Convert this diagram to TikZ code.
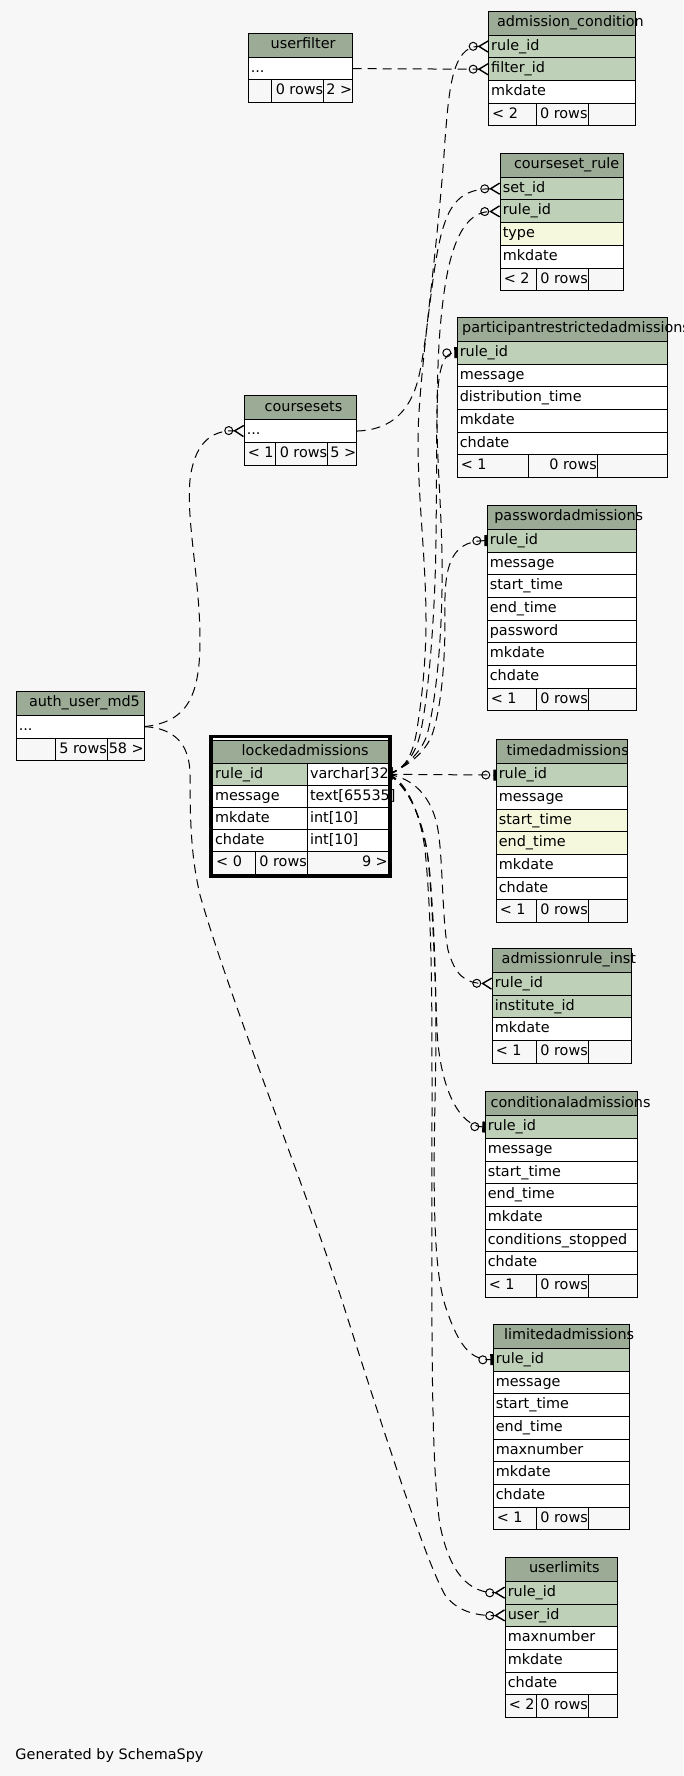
\documentclass[tikz,border=0pt]{standalone}
\usepackage{fontspec}
\setmainfont{DejaVu Sans}
\usetikzlibrary{arrows.meta}
\definecolor{bgc}{HTML}{F7F7F7}
\definecolor{hdr}{HTML}{9BAB96}
\definecolor{pk}{HTML}{BED1B8}
\definecolor{idx}{HTML}{F5F8DC}
\definecolor{wht}{HTML}{FFFFFF}
\newcommand{\tdots}{...}
\tikzset{
  cell/.style={draw=black, line width=1pt, inner sep=0pt, outer sep=0pt, minimum height=22.7pt},
  hdrcell/.style={cell, fill=hdr, minimum height=24pt},
  txt/.style={inner sep=0pt, outer sep=0pt, font=\fontsize{14.4pt}{17pt}\selectfont},
  rel/.style={draw=black, line width=1pt, dash pattern=on 9pt off 6pt},
  many/.style={rel, -{Circle[open,length=9pt,width=9pt]Straight Barb[reversed,length=9pt,width=11pt,line width=1.4pt]}},
  one/.style={rel, -{Circle[open,length=9pt,width=9pt,sep=3pt]Rectangle[length=3pt,width=11pt]}},
}
% id, x, y, w, textx, title
\newcommand{\tblhead}[6]{%
  \node[hdrcell, minimum width=#4pt, anchor=north west] (#1-h) at (#2,#3) {};
  \node[txt, anchor=base west] (#1-ht) at (#5,{#3+15.5}) {#6};}
% id, x, y(top of table), w, list fill/text
\newcommand{\tblrows}[5]{%
  \foreach[count=\ri] \cf/\ct in {#5} {%
    \node[cell, fill=\cf, minimum width=#4pt, anchor=north west] (#1-\ri) at (#2,{#3+24+(\ri-1)*22.7}) {};
    \node[txt, anchor=base west] (#1-\ri-t) at ({#2+2.5},{#3+24+(\ri-1)*22.7+15}) {\ct};
  }}
% id, x, y, w, d1, d2, t1, t2, t3
\newcommand{\tblfoot}[9]{%
  \node[cell, fill=bgc, minimum width=#4pt, anchor=north west] (#1-f) at (#2,#3) {};
  \draw[line width=1pt] (#5,#3) -- (#5,{#3+22.7}) (#6,#3) -- (#6,{#3+22.7});
  \node[txt, anchor=base west] (#1-f1) at ({#2+3.5},{#3+15}) {#7};
  \node[txt, anchor=base east] (#1-f2) at ({#6-0.5},{#3+15}) {#8};
  \node[txt, anchor=base east] (#1-f3) at ({#2+#4-0.5},{#3+15}) {#9};}
\begin{document}
\begin{tikzpicture}[x=1pt,y=-1pt]
\path[use as bounding box, fill=bgc] (0,0) rectangle (683,1776);

% userfilter
\tblhead{uf}{248.3}{33.3}{104.4}{270.7}{userfilter}
\tblrows{uf}{248.3}{33.3}{104.4}{wht/\tdots}
\tblfoot{uf}{248.3}{80}{104.4}{271.3}{323.7}{}{0 rows}{2 >}

% admission_condition
\tblhead{ac}{488.7}{11.2}{147}{497}{admission\_condition}
\tblrows{ac}{488.7}{11.2}{147}{pk/rule\_id, pk/filter\_id, wht/mkdate}
\tblfoot{ac}{488.7}{103.3}{147}{536}{588}{< 2}{0 rows}{}

% courseset_rule
\tblhead{cr}{500.3}{153.3}{123.4}{514}{courseset\_rule}
\tblrows{cr}{500.3}{153.3}{123.4}{pk/set\_id, pk/rule\_id, idx/type, wht/mkdate}
\tblfoot{cr}{500.3}{268.1}{123.4}{536}{588.3}{< 2}{0 rows}{}

% participantrestrictedadmissions
\tblhead{pra}{457.3}{317.3}{210.4}{462.2}{participantrestrictedadmissions}
\tblrows{pra}{457.3}{317.3}{210.4}{pk/rule\_id, wht/message, wht/distribution\_time, wht/mkdate, wht/chdate}
\tblfoot{pra}{457.3}{454.8}{210.4}{528.3}{597.3}{< 1}{0 rows}{}

% coursesets
\tblhead{cs}{244.3}{395.7}{112.4}{264.7}{coursesets}
\tblrows{cs}{244.3}{395.7}{112.4}{wht/\tdots}
\tblfoot{cs}{244.3}{442.4}{112.4}{275.3}{327.7}{< 1}{0 rows}{5 >}

% auth_user_md5
\tblhead{au}{16.3}{691.3}{128}{29}{auth\_user\_md5}
\tblrows{au}{16.3}{691.3}{128}{wht/\tdots}
\tblfoot{au}{16.3}{738}{128}{55.3}{107.3}{}{5 rows}{58 >}

% lockedadmissions
\fill[white] (211,736.7) rectangle (390,876.7);
\node[hdrcell, minimum width=175.6pt, minimum height=23.3pt, anchor=north west] (la-h) at (212.7,740) {};
\node[txt, anchor=base west] (la-ht) at (241.7,755.3) {lockedadmissions};
\foreach[count=\ri] \ca/\cb/\cf in {rule\_id/varchar[32]/pk, message/text[65535]/wht, mkdate/int[10]/wht, chdate/int[10]/wht} {
  \node[cell, fill=\cf, minimum width=94.6pt, minimum height=22pt, anchor=north west] (la-\ri-a) at (212.7,{763.3+(\ri-1)*22}) {};
  \node[cell, fill=wht, minimum width=81pt, minimum height=22pt, anchor=north west] (la-\ri-b) at (307.3,{763.3+(\ri-1)*22}) {};
  \node[txt, anchor=base west] (la-\ri-at) at (215,{763.3+(\ri-1)*22+15}) {\ca};
  \node[txt, anchor=base west] (la-\ri-bt) at (310,{763.3+(\ri-1)*22+15}) {\cb};
}
\tblfoot{la}{212.7}{851.3}{175.6}{255}{307.3}{< 0}{0 rows}{9 >}
\node[draw=black, line width=3.4pt, inner sep=0pt, outer sep=0pt, minimum width=179pt, minimum height=140pt, anchor=north west] (la) at (211,736.7) {};

% passwordadmissions
\tblhead{pw}{487.3}{505.3}{149}{494.3}{passwordadmissions}
\tblrows{pw}{487.3}{505.3}{149}{pk/rule\_id, wht/message, wht/start\_time, wht/end\_time, wht/password, wht/mkdate, wht/chdate}
\tblfoot{pw}{487.3}{688.2}{149}{536.3}{588.3}{< 1}{0 rows}{}

% timedadmissions
\tblhead{ta}{496.3}{739.7}{131}{506.7}{timedadmissions}
\tblrows{ta}{496.3}{739.7}{131}{pk/rule\_id, wht/message, idx/start\_time, idx/end\_time, wht/mkdate, wht/chdate}
\tblfoot{ta}{496.3}{899.9}{131}{536.3}{588.3}{< 1}{0 rows}{}

% admissionrule_inst
\tblhead{ari}{492.3}{948.3}{139.4}{501.7}{admissionrule\_inst}
\tblrows{ari}{492.3}{948.3}{139.4}{pk/rule\_id, pk/institute\_id, wht/mkdate}
\tblfoot{ari}{492.3}{1040.4}{139.4}{536.3}{588.3}{< 1}{0 rows}{}

% conditionaladmissions
\tblhead{ca}{485.3}{1091.7}{152}{490.7}{conditionaladmissions}
\tblrows{ca}{485.3}{1091.7}{152}{pk/rule\_id, wht/message, wht/start\_time, wht/end\_time, wht/mkdate, wht/conditions\_stopped, wht/chdate}
\tblfoot{ca}{485.3}{1274.6}{152}{536.3}{588.3}{< 1}{0 rows}{}

% limitedadmissions
\tblhead{lim}{493.3}{1324.3}{136}{504}{limitedadmissions}
\tblrows{lim}{493.3}{1324.3}{136}{pk/rule\_id, wht/message, wht/start\_time, wht/end\_time, wht/maxnumber, wht/mkdate, wht/chdate}
\tblfoot{lim}{493.3}{1507.2}{136}{536.3}{588.3}{< 1}{0 rows}{}

% userlimits
\tblhead{ul}{505.3}{1557.3}{112}{529}{userlimits}
\tblrows{ul}{505.3}{1557.3}{112}{pk/rule\_id, pk/user\_id, wht/maxnumber, wht/mkdate, wht/chdate}
\tblfoot{ul}{505.3}{1694.8}{112}{536.3}{588.3}{< 2}{0 rows}{}

\node[txt, anchor=base west] (gen) at (15.5,1759) {Generated by SchemaSpy};

% relationships
\draw[many] (uf-1.east) -- (ac-2.west);
\draw[many] (cs-1.east) .. controls (392,430) and (410,410) .. (418,380) .. controls (428,340) and (432,260) .. (444,225) .. controls (452,200) and (465,189) .. (cr-1.west);
\draw[many] (au-1.east) .. controls (185,722) and (200,700) .. (200,640) .. controls (200,580) and (186,520) .. (190,480) .. controls (194,445) and (210,430) .. (cs-1.west);
\draw[many] (au-1.east) .. controls (175,728) and (190,745) .. (190,775) .. controls (190,830) and (192,860) .. (200,895) .. controls (230,1000) and (310,1200) .. (345,1310) .. controls (380,1420) and (425,1560) .. (445,1595) .. controls (455,1608) and (470,1616) .. (ul-2.west);
\draw[many] (la-1-b.east) .. controls (405,770) and (412,755) .. (416,735) .. controls (422,700) and (426,660) .. (426,620) .. controls (426,560) and (418,500) .. (418,440) .. controls (418,380) and (438,250) .. (445,140) .. controls (449,90) and (452,46) .. (ac-1.west);
\draw[many] (la-1-b.east) .. controls (405,768) and (415,755) .. (420,735) .. controls (428,700) and (435,620) .. (436,540) .. controls (437,450) and (436,380) .. (440,330) .. controls (445,270) and (455,212) .. (cr-2.west);
\draw[one] (la-1-b.east) .. controls (408,766) and (422,750) .. (427,735) .. controls (435,705) and (441,650) .. (442,590) .. controls (443,520) and (437,470) .. (437,420) .. controls (437,380) and (440,353) .. (pra-1.west);
\draw[one] (la-1-b.east) .. controls (410,765) and (425,752) .. (432,735) .. controls (440,712) and (445,670) .. (445,620) .. controls (444,572) and (447,541) .. (pw-1.west);
\draw[one] (la-1-b.east) -- (ta-1.west);
\draw[many] (la-1-b.east) .. controls (412,778) and (432,795) .. (438,830) .. controls (443,860) and (442,920) .. (448,950) .. controls (455,975) and (465,983) .. (ari-1.west);
\draw[one] (la-1-b.east) .. controls (405,785) and (420,810) .. (427,850) .. controls (433,900) and (435,980) .. (437,1030) .. controls (440,1090) and (460,1126) .. (ca-1.west);
\draw[one] (la-1-b.east) .. controls (408,785) and (425,820) .. (430,875) .. controls (436,950) and (437,1020) .. (435,1100) .. controls (433,1200) and (434,1270) .. (445,1305) .. controls (458,1345) and (470,1360) .. (lim-1.west);
\draw[many] (la-1-b.east) .. controls (405,780) and (420,810) .. (425,850) .. controls (432,920) and (432,1000) .. (432,1100) .. controls (432,1300) and (430,1460) .. (440,1525) .. controls (450,1575) and (470,1593) .. (ul-1.west);
\end{tikzpicture}
\end{document}
